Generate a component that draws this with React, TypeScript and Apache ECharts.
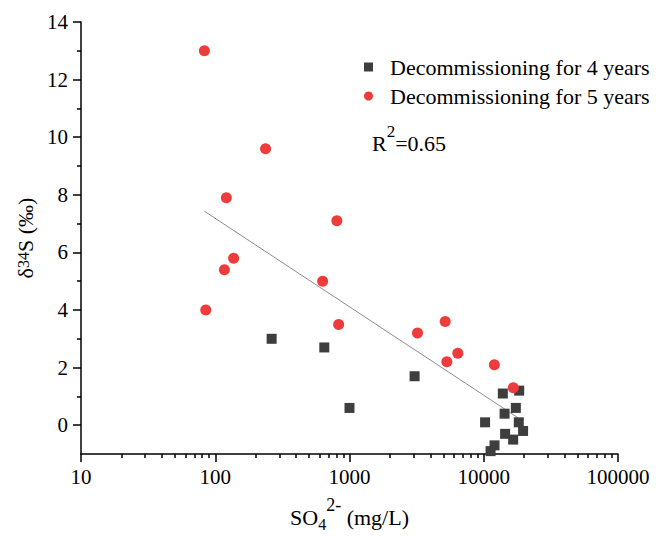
import React, { useEffect, useRef } from 'react';
import * as echarts from 'echarts';

// Sulfate concentration (mg/L) and δ34S (‰) of the two sampling campaigns
const years4Sulfate = [263, 649, 1000, 3054, 10230, 11240, 12030, 13870, 14290, 14420, 16560, 17340, 18370, 18240, 19630];
const years4Delta = [3.0, 2.7, 0.6, 1.7, 0.1, -0.9, -0.7, 1.1, 0.4, -0.3, -0.5, 0.6, 1.2, 0.1, -0.2];
const years5Sulfate = [83, 237, 121, 137, 117, 85, 631, 805, 830, 3210, 5160, 5310, 6410, 12000, 16600];
const years5Delta = [13.0, 9.6, 7.9, 5.8, 5.4, 4.0, 5.0, 7.1, 3.5, 3.2, 3.6, 2.2, 2.5, 2.1, 1.3];

// End points of the fitted log-linear trend
const fitSulfate = [83, 18500];
const fitDelta = [7.43, 0.22];
const rSquared = 0.65;

const seriesNames = ['Decommissioning for 4 years', 'Decommissioning for 5 years'];

// Tick positions
const xMajorTicks = [10, 100, 1000, 10000, 100000];
const xMinorTicks: number[] = [];
for (const decade of [10, 100, 1000, 10000]) {
  for (let m = 2; m <= 9; m++) xMinorTicks.push(decade * m);
}
const yMajorTicks = [0, 2, 4, 6, 8, 10, 12, 14];
const yMinorTicks = [1, 3, 5, 7, 9, 11, 13];

const FONT = "'Liberation Serif', 'Times New Roman', serif";
const INK = '#000';
const SQUARE_COLOR = '#3e3e3e';
const CIRCLE_COLOR = '#ee3b3b';

const zip = (xs: number[], ys: number[]) => xs.map((x, i) => [x, ys[i]]);

export default function App() {
  const ref = useRef<HTMLDivElement>(null);

  useEffect(() => {
    if (!ref.current) return;
    const chart = echarts.init(ref.current, undefined, { renderer: 'svg' });

    const axisLineStyle = { color: INK, width: 1.5 };
    const labelBase = { fontFamily: FONT, fontSize: 21, color: INK };

    chart.setOption({
      animation: false,
      backgroundColor: '#fff',
      textStyle: { fontFamily: FONT, color: INK },
      grid: { left: 81, right: 38, top: 22, bottom: 82, outerBoundsMode: 'none' },
      legend: {
        orient: 'vertical',
        left: 364,
        top: 55,
        padding: 0,
        itemGap: 5,
        itemWidth: 9,
        itemHeight: 9,
        data: [
          { name: seriesNames[0], icon: 'rect' },
          { name: seriesNames[1], icon: 'circle' },
        ],
        textStyle: { fontFamily: FONT, fontSize: 22, color: INK, lineHeight: 24, padding: [0, 0, 0, 12] },
      },
      xAxis: [
        {
          type: 'log',
          logBase: 10,
          min: 10,
          max: 100000,
          position: 'bottom',
          axisLine: { onZero: false, lineStyle: axisLineStyle },
          axisTick: { length: 8, customValues: xMajorTicks, lineStyle: axisLineStyle },
          axisLabel: {
            ...labelBase,
            customValues: xMajorTicks,
            margin: 12,
            formatter: (v: number) => String(Math.round(v)),
          },
          splitLine: { show: false },
          name: '{a|SO}{sub|4}{sup|2-}{a| (mg/L)}',
          nameLocation: 'middle',
          nameGap: 56,
          nameTextStyle: {
            fontFamily: FONT,
            fontSize: 22,
            color: INK,
            rich: {
              a: { fontFamily: FONT, fontSize: 22, lineHeight: 22, verticalAlign: 'bottom', padding: [0, 0, 4, 0], color: INK },
              sub: { fontFamily: FONT, fontSize: 16, lineHeight: 16, verticalAlign: 'bottom', color: INK },
              sup: { fontFamily: FONT, fontSize: 18, lineHeight: 18, verticalAlign: 'bottom', padding: [0, 0, 18, 0], color: INK },
            },
          },
        },
        {
          // minor log ticks (2…9 within each decade)
          type: 'log',
          logBase: 10,
          min: 10,
          max: 100000,
          position: 'bottom',
          axisLine: { show: false, onZero: false },
          axisTick: { length: 4, customValues: xMinorTicks, lineStyle: axisLineStyle },
          axisLabel: { show: false },
          splitLine: { show: false },
        },
      ],
      yAxis: [
        {
          type: 'value',
          min: -1,
          max: 14,
          position: 'left',
          axisLine: { show: true, onZero: false, lineStyle: axisLineStyle },
          axisTick: { show: true, length: 8, customValues: yMajorTicks, lineStyle: axisLineStyle },
          axisLabel: { ...labelBase, customValues: yMajorTicks, margin: 13 },
          splitLine: { show: false },
          name: '{a|δ}{sup|34}{a|S (‰)}',
          nameLocation: 'middle',
          nameRotate: 90,
          nameGap: 43,
          nameTextStyle: {
            fontFamily: FONT,
            fontSize: 22,
            color: INK,
            rich: {
              a: { fontFamily: FONT, fontSize: 22, lineHeight: 22, verticalAlign: 'bottom', color: INK },
              sup: { fontFamily: FONT, fontSize: 16, lineHeight: 16, verticalAlign: 'bottom', padding: [0, 0, 5, 0], color: INK },
            },
          },
        },
        {
          // minor ticks at odd values
          type: 'value',
          min: -1,
          max: 14,
          position: 'left',
          axisLine: { show: false, onZero: false },
          axisTick: { show: true, length: 4, customValues: yMinorTicks, lineStyle: axisLineStyle },
          axisLabel: { show: false },
          splitLine: { show: false },
        },
      ],
      graphic: [
        {
          type: 'text',
          x: 372,
          y: 154,
          style: {
            text: `{a|R}{sup|2}{a|=${rSquared.toFixed(2)}}`,
            align: 'left',
            verticalAlign: 'bottom',
            fontFamily: FONT,
            fill: INK,
            rich: {
              a: { fontFamily: FONT, fontSize: 22, lineHeight: 22, verticalAlign: 'bottom', fill: INK },
              sup: { fontFamily: FONT, fontSize: 17, lineHeight: 17, verticalAlign: 'bottom', padding: [0, 0, 14, 0], fill: INK },
            },
          },
        },
      ],
      series: [
        {
          name: 'fit',
          type: 'line',
          xAxisIndex: 0,
          yAxisIndex: 0,
          data: zip(fitSulfate, fitDelta),
          symbol: 'none',
          lineStyle: { color: '#8c8c8c', width: 1 },
          silent: true,
          z: 1,
        },
        {
          name: seriesNames[0],
          type: 'scatter',
          xAxisIndex: 0,
          yAxisIndex: 0,
          data: zip(years4Sulfate, years4Delta),
          symbol: 'rect',
          symbolSize: 10,
          itemStyle: { color: SQUARE_COLOR, opacity: 1 },
          z: 3,
        },
        {
          name: seriesNames[1],
          type: 'scatter',
          xAxisIndex: 0,
          yAxisIndex: 0,
          data: zip(years5Sulfate, years5Delta),
          symbol: 'circle',
          symbolSize: 11,
          itemStyle: { color: CIRCLE_COLOR, opacity: 1 },
          z: 4,
        },
      ],
    });

    return () => chart.dispose();
  }, []);

  return (
    <div
      ref={ref}
      style={{ position: 'fixed', left: 0, top: 0, width: 656, height: 536, background: '#fff' }}
    />
  );
}
